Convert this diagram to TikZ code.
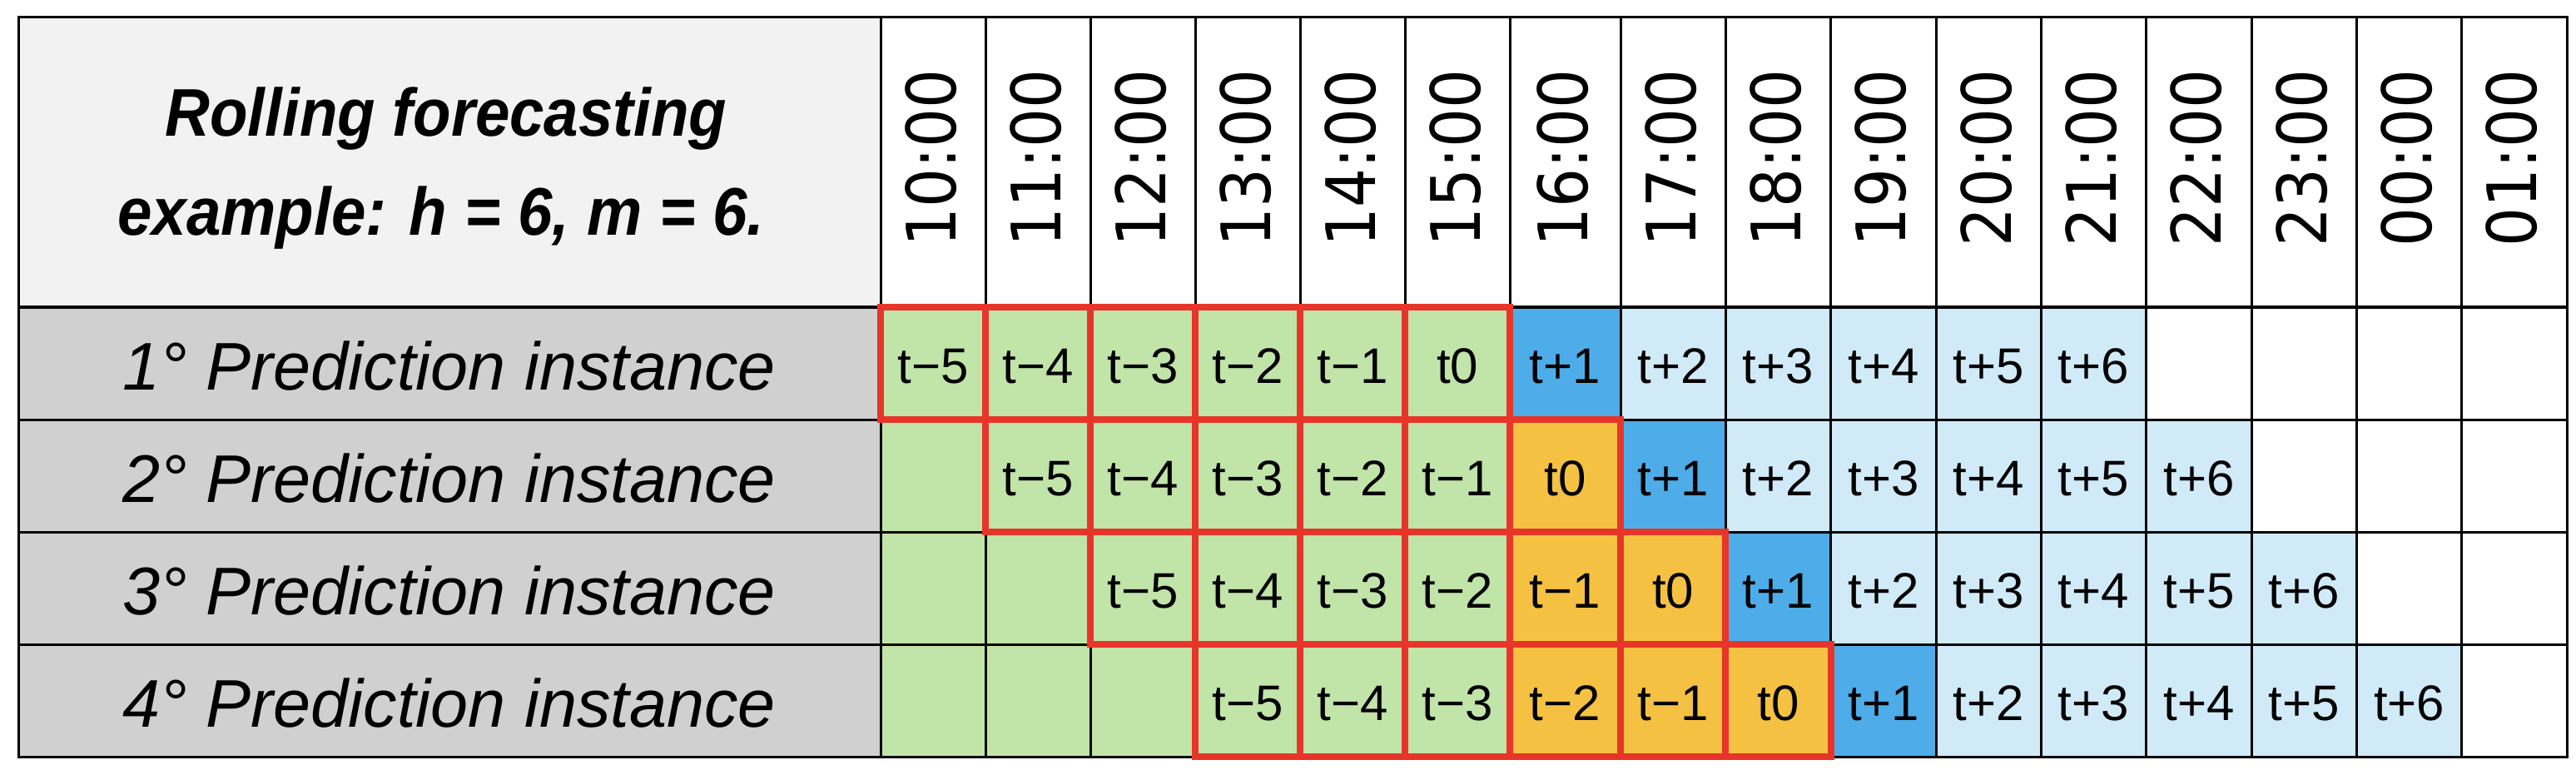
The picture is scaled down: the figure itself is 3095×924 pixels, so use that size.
\documentclass[tikz,border=0pt]{standalone}
\usepackage{fontspec}
\newfontfamily\sansA{Liberation Sans}
\newfontfamily\titlefont[FakeStretch=0.92]{Liberation Sans}
\newfontfamily\timefont[FakeStretch=0.9]{DejaVu Sans}
\newcommand\cellfnt{\sansA\fontsize{18}{21}\selectfont}
\newcommand\rowfnt{\sansA\itshape\fontsize{24.3}{29}\selectfont}
\newcommand\titlefnt{\titlefont\bfseries\itshape\fontsize{24.3}{29}\selectfont}
\newcommand\timefnt{\timefont\fontsize{24.6}{29}\selectfont}
\definecolor{hdrgray}{HTML}{F2F2F2}
\definecolor{lblgray}{HTML}{D0D0D0}
\definecolor{cgreen}{HTML}{C1E4A9}
\definecolor{corange}{HTML}{F5C142}
\definecolor{cblue}{HTML}{4EADE8}
\definecolor{cltblue}{HTML}{D0EBF7}
\definecolor{cred}{HTML}{E8352A}
\begin{document}
\begin{tikzpicture}[x=0.3pt,y=-0.3pt,
  gridline/.style={line width=0.9pt,black},
  redbox/.style={draw=cred,line width=2.4pt},
  celltext/.style={inner sep=0pt,anchor=base,font=\cellfnt},
  rowtext/.style={inner sep=0pt,anchor=base,font=\rowfnt},
  titletext/.style={inner sep=0pt,anchor=base,font=\titlefnt},
  timetext/.style={inner sep=0pt,anchor=base,rotate=90,font=\timefnt}]
\useasboundingbox (0,0) rectangle (3095,924);
\fill[white] (0,0) rectangle (3095,924);
\def\colx{{1058,1184,1310,1436,1562,1688,1814,1947,2073.3,2199.7,2326,2452.3,2578.7,2705,2831.3,2957.7,3084}}
% label column fills
\fill[hdrgray] (22,20) rectangle (1058,369);
\fill[lblgray] (22,369) rectangle (1058,909);
% cell fills
\foreach \r in {1,...,4}{
  \pgfmathsetmacro\yt{369+135*(\r-1)}
  \pgfmathsetmacro\yb{\yt+135}
  \foreach \c in {0,...,15}{
    \pgfmathsetmacro\xl{\colx[\c]}
    \pgfmathsetmacro\xr{\colx[\c+1]}
    \pgfmathtruncatemacro\k{\c-\r-4}
    \ifnum\k>6 \def\cc{white}\else\ifnum\k>1 \def\cc{cltblue}\else\ifnum\k=1 \def\cc{cblue}\else\ifnum\c<6 \def\cc{cgreen}\else\def\cc{corange}\fi\fi\fi\fi
    \fill[\cc] (\xl,\yt) rectangle (\xr,\yb);
  }
}
% black grid
\foreach \c in {0,...,15}{
  \pgfmathsetmacro\xl{\colx[\c]}
  \draw[gridline] (\xl,20) -- (\xl,909);
}
\foreach \y in {504,639,774} \draw[gridline] (22,\y) -- (3084,\y);
\draw[gridline,line width=1.2pt] (22,369) -- (3084,369);
\draw[gridline] (22,20) rectangle (3084,909);
% red boxes
\foreach \r in {1,...,4}{
  \pgfmathsetmacro\yt{369+135*(\r-1)}
  \pgfmathsetmacro\yb{\yt+135}
  \foreach \c in {0,...,15}{
    \pgfmathsetmacro\xl{\colx[\c]}
    \pgfmathsetmacro\xr{\colx[\c+1]}
    \pgfmathtruncatemacro\k{\c-\r-4}
    \ifnum\k<-5 \else\ifnum\k>0 \else
      \draw[redbox] (\xl,\yt) rectangle (\xr,\yb);
    \fi\fi
  }
}
% cell texts
\foreach \r in {1,...,4}{
  \pgfmathsetmacro\yt{369+135*(\r-1)}
  \foreach \c in {0,...,15}{
    \pgfmathsetmacro\xl{\colx[\c]}
    \pgfmathsetmacro\xr{\colx[\c+1]}
    \pgfmathtruncatemacro\k{\c-\r-4}
    \pgfmathtruncatemacro\ak{abs(\k)}
    \ifnum\k<0 \def\lab{t−\ak}\else\ifnum\k=0 \def\lab{t0}\else\def\lab{t+\ak}\fi\fi
    \ifnum\k<-5 \else\ifnum\k>6 \else
      \node[celltext] (cell-\r-\c) at ({(\xl+\xr)/2},{\yt+91}) {\lab};
    \fi\fi
  }
  \node[rowtext] (label-\r) at (540,{\yt+99}) {\r° Prediction instance};
}
% time labels
\foreach \c/\tm in {0/10:00,1/11:00,2/12:00,3/13:00,4/14:00,5/15:00,6/16:00,7/17:00,8/18:00,9/19:00,10/20:00,11/21:00,12/22:00,13/23:00,14/00:00,15/01:00}{
  \pgfmathsetmacro\xl{\colx[\c]}
  \pgfmathsetmacro\xr{\colx[\c+1]}
  \node[timetext] (time-\c) at ({(\xl+\xr)/2+27},190) {\tm};
}
% title
\node[titletext] (title1) at (536,163) {Rolling forecasting};
\node[titletext] (title2) at (530,282) {example: h = 6, m = 6.};
\end{tikzpicture}
\end{document}
